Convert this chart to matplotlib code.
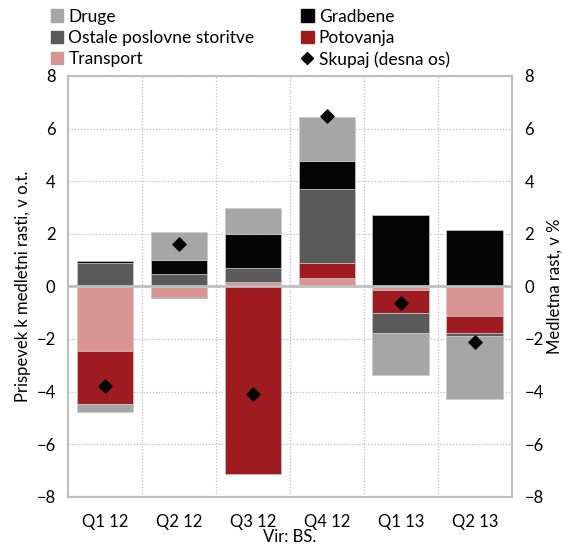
import matplotlib
matplotlib.use("Agg")
import matplotlib.pyplot as plt
from matplotlib.lines import Line2D
from matplotlib.patches import Patch
import numpy as np

plt.rcParams['font.family'] = ['Lato', 'DejaVu Sans']

categories = ["Q1 12", "Q2 12", "Q3 12", "Q4 12", "Q1 13", "Q2 13"]
transport = [-2.44, -0.41, 0.18, 0.31, -0.13, -1.12]
potovanja = [-2.02, -0.05, -7.13, 0.59, -0.89, -0.66]
ostale = [0.90, 0.47, 0.51, 2.80, -0.74, -0.10]
gradbene = [0.06, 0.54, 1.31, 1.06, 2.71, 2.16]
druge = [-0.32, 1.04, 0.98, 1.66, -1.59, -2.41]
skupaj = [-3.78, 1.60, -4.09, 6.46, -0.62, -2.12]

series = [
    ("Transport", transport, "#D99594"),
    ("Potovanja", potovanja, "#9E1B20"),
    ("Ostale poslovne storitve", ostale, "#5A5A5A"),
    ("Gradbene", gradbene, "#050505"),
    ("Druge", druge, "#A6A6A6"),
]

fig = plt.figure(figsize=(5.62, 5.46), dpi=100)
ax = fig.add_axes([0.121, 0.090, 0.790, 0.771])
x = np.arange(len(categories))
pos_b = np.zeros(len(categories))
neg_b = np.zeros(len(categories))
for name, vals, col in series:
    v = np.array(vals)
    bottoms = np.where(v >= 0, pos_b, neg_b)
    ax.bar(x, v, 0.77, bottom=bottoms, color=col, edgecolor="#C8C8C8", linewidth=0.5, zorder=3)
    pos_b = pos_b + np.where(v >= 0, v, 0)
    neg_b = neg_b + np.where(v < 0, v, 0)

ax2 = ax.twinx()
ax2.scatter(x, skupaj, marker="D", s=45, color="#050505", zorder=5)

for a in (ax, ax2):
    a.set_ylim(-8, 8)
    a.set_yticks(np.arange(-8, 9, 2))
    a.tick_params(length=0, labelsize=12, pad=9)
ax.set_xlim(-0.5, len(categories) - 0.5)
ax.set_xticks(x)
ax.set_xticklabels(categories)
ax.tick_params(axis='x', pad=12)

ax.set_axisbelow(True)
ax.yaxis.grid(True, linestyle=(0, (1, 1.5)), color="#BFBFBF", linewidth=0.9)
for xv in np.arange(0.5, len(categories) - 0.5, 1):
    ax.axvline(xv, linestyle=(0, (1, 1.5)), color="#BFBFBF", linewidth=0.9, zorder=0)
ax.axhline(0, color="#BFBFBF", linewidth=2, zorder=4)

for a in (ax, ax2):
    for s in a.spines.values():
        s.set_color("#BFBFBF")
        s.set_linewidth(1.5)

ax.set_ylabel("Prispevek k medletni rasti, v o.t.", fontsize=12, labelpad=4)
ax2.set_ylabel("Medletna rast, v %", fontsize=12, rotation=90, labelpad=2)
ax.set_xlabel("Vir: BS.", fontsize=12, labelpad=-0.5)

handles = [
    Patch(color="#A6A6A6", label="Druge"),
    Patch(color="#5A5A5A", label="Ostale poslovne storitve"),
    Patch(color="#D99594", label="Transport"),
    Patch(color="#050505", label="Gradbene"),
    Patch(color="#9E1B20", label="Potovanja"),
    Line2D([], [], marker="D", color="#050505", linestyle="None", markersize=6, label="Skupaj (desna os)"),
]
fig.legend(handles=handles, ncol=2, loc="upper left", bbox_to_anchor=(0.063, 1.013),
           frameon=False, fontsize=12.5, handlelength=0.7, handleheight=0.7,
           handletextpad=0.3, columnspacing=2.7, labelspacing=0.3)

fig.savefig("out.png", dpi=100)
